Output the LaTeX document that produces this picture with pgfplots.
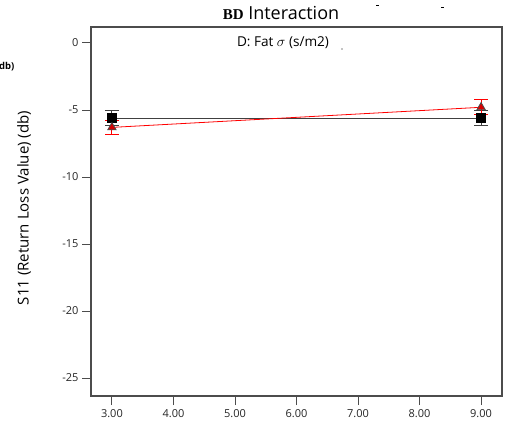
\documentclass[border=0pt]{standalone}
\usepackage{pgfplots}
\pgfplotsset{compat=1.18}
\usepackage{fontspec}
\setmainfont{Open Sans}
\newfontfamily\serifb{Liberation Serif}
\begin{document}
\begin{tikzpicture}
\useasboundingbox (-91pt,-33pt) rectangle (422pt,396pt);
\begin{axis}[
  at={(0pt,0pt)}, anchor=south west,
  scale only axis, width=411pt, height=369pt,
  xmin=2.66, xmax=9.34, ymin=-26.34, ymax=1.19,
  xtick={3,4,5,6,7,8,9}, ytick={-25,-20,-15,-10,-5,0},
  /pgf/number format/assume math mode=true,
  xticklabel style={/pgf/number format/.cd, fixed, fixed zerofill, precision=2},
  yticklabel style={/pgf/number format/.cd, fixed, precision=0},
  ticklabel style={font=\fontsize{11}{13}\selectfont, text=black!85},
  tick align=outside, tick pos=left,
  major tick length=9pt,
  tick style={gray!60!black, line width=0.9pt},
  axis line style={gray!60!black, line width=1.1pt},
  xticklabel shift=1pt,
  yticklabel shift=0pt,
]
\addplot[color=black!75, line width=0.8pt, mark=square*, mark size=4.4pt,
  mark options={fill=black, draw=black, solid},
  error bars/.cd, y dir=both, y explicit, error mark=|,
  error bar style={black!75, line width=1pt},
  error mark options={black!75, line width=1pt, mark size=7pt}]
  coordinates {(3,-5.6) +- (0,0.56) (9,-5.6) +- (0,0.56)};
\addplot[color=red, line width=0.8pt, mark=triangle*, mark size=4.8pt,
  mark options={fill=red!85!black, draw=black!70, solid},
  error bars/.cd, y dir=both, y explicit, error mark=|,
  error bar style={red, line width=1pt},
  error mark options={red, line width=1pt, mark size=7pt}]
  coordinates {(3,-6.3) +- (0,0.55) (9,-4.8) +- (0,0.55)};
\end{axis}
\node[font=\fontsize{18}{20}\selectfont] at (190pt,383pt) {{\serifb\bfseries\fontsize{15}{17}\selectfont BD} Interaction};
\node[font=\fontsize{13.6}{15}\selectfont] at (192pt,353pt) {D: Fat $\sigma$ (s/m2)};
\node[rotate=90, font=\fontsize{15}{17}\selectfont] at (-67pt,188pt) {S11 (Return Loss Value) (db)};
\node[anchor=west, inner sep=0pt, font=\bfseries\fontsize{9.5}{11}\selectfont] at (-92pt,329pt) {db)};
\draw[line width=0.8pt] (285pt,391pt) -- (288pt,391pt);
\draw[line width=0.8pt] (350pt,389pt) -- (353pt,389pt);
\fill (251pt,347pt) circle (0.6pt);
\end{tikzpicture}
\end{document}
